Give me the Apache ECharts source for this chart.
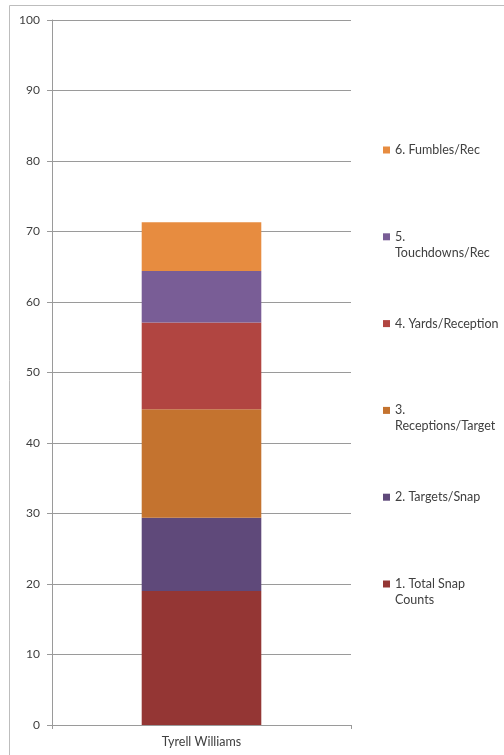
<!DOCTYPE html>
<html>
<head>
<meta charset="utf-8">
<script src="https://cdn.jsdelivr.net/npm/echarts@6/dist/echarts.min.js"></script>
<style>
  html, body { margin: 0; padding: 0; background: #fff; }
  #main { width: 504px; height: 755px; }
</style>
</head>
<body>
<div id="main"></div>
<script>
  // data
  var categories = ['Tyrell Williams'];
  var seriesNames = ['1. Total Snap Counts', '2. Targets/Snap', '3. Receptions/Target',
                     '4. Yards/Reception', '5. Touchdowns/Rec', '6. Fumbles/Rec'];
  // legend wraps the long names like the original
  var legendLabels = ['1. Total Snap\nCounts', '2. Targets/Snap', '3.\nReceptions/Target',
                      '4. Yards/Reception', '5.\nTouchdowns/Rec', '6. Fumbles/Rec'];
  var snapCounts = [19.0];
  var targetsSnap = [10.4];
  var receptionsTarget = [15.4];
  var yardsReception = [12.3];
  var touchdownsRec = [7.3];
  var fumblesRec = [6.9];
  var seriesValues = [snapCounts, targetsSnap, receptionsTarget, yardsReception, touchdownsRec, fumblesRec];
  var yMin = 0, yMax = 100, yStep = 10;

  var colors = ['#943634', '#5f497a', '#c4732f', '#b14541', '#795d96', '#e78c40'];
  var font = 'Lato';

  var chart = echarts.init(document.getElementById('main'));

  var series = seriesNames.map(function (name, i) {
    return {
      name: name,
      type: 'bar',
      stack: 'total',
      barWidth: '40%',
      data: seriesValues[i],
      itemStyle: { color: colors[i] },
      emphasis: { disabled: true }
    };
  });

  // one legend per entry so the first lines sit on an even step like the original.
  // two-line labels get an empty first line so the marker lines up with line one
  var legends = seriesNames.map(function (name, i) {
    var twoLines = legendLabels[i].indexOf('\n') >= 0;
    var center = 584 - i * 86.8;
    return {
      data: [name],
      left: 383,
      top: twoLines ? center - 24 : center - 8,
      padding: 0,
      icon: 'rect',
      itemWidth: 7,
      itemHeight: 7,
      selectedMode: false,
      formatter: function (n) {
        var t = legendLabels[seriesNames.indexOf(n)];
        return t.indexOf('\n') >= 0 ? ' \n' + t : t;
      },
      textStyle: { fontFamily: font, fontSize: 12.5, color: '#404040', lineHeight: 16 }
    };
  });

  chart.setOption({
    animation: false,
    color: colors,
    graphic: [{
      type: 'rect',
      shape: { x: 9.5, y: 5.5, width: 600, height: 800 },
      style: { fill: 'none', stroke: '#bdbdbd', lineWidth: 1 },
      silent: true
    }],
    grid: { left: 52, right: 153, top: 20, bottom: 30 },
    legend: legends,
    xAxis: {
      type: 'category',
      data: categories,
      axisLine: { lineStyle: { color: '#9a9a9a' } },
      axisTick: { show: true, length: 4, lineStyle: { color: '#9a9a9a' } },
      axisLabel: { fontFamily: font, fontSize: 12.5, color: '#404040', margin: 10 }
    },
    yAxis: {
      type: 'value',
      min: yMin,
      max: yMax,
      interval: yStep,
      axisLine: { show: true, lineStyle: { color: '#9a9a9a' } },
      axisTick: { show: true, length: 5, lineStyle: { color: '#9a9a9a' } },
      splitLine: { lineStyle: { color: '#9a9a9a' } },
      axisLabel: { fontFamily: font, fontSize: 12, color: '#404040', margin: 12 }
    },
    series: series
  });
</script>
</body>
</html>
